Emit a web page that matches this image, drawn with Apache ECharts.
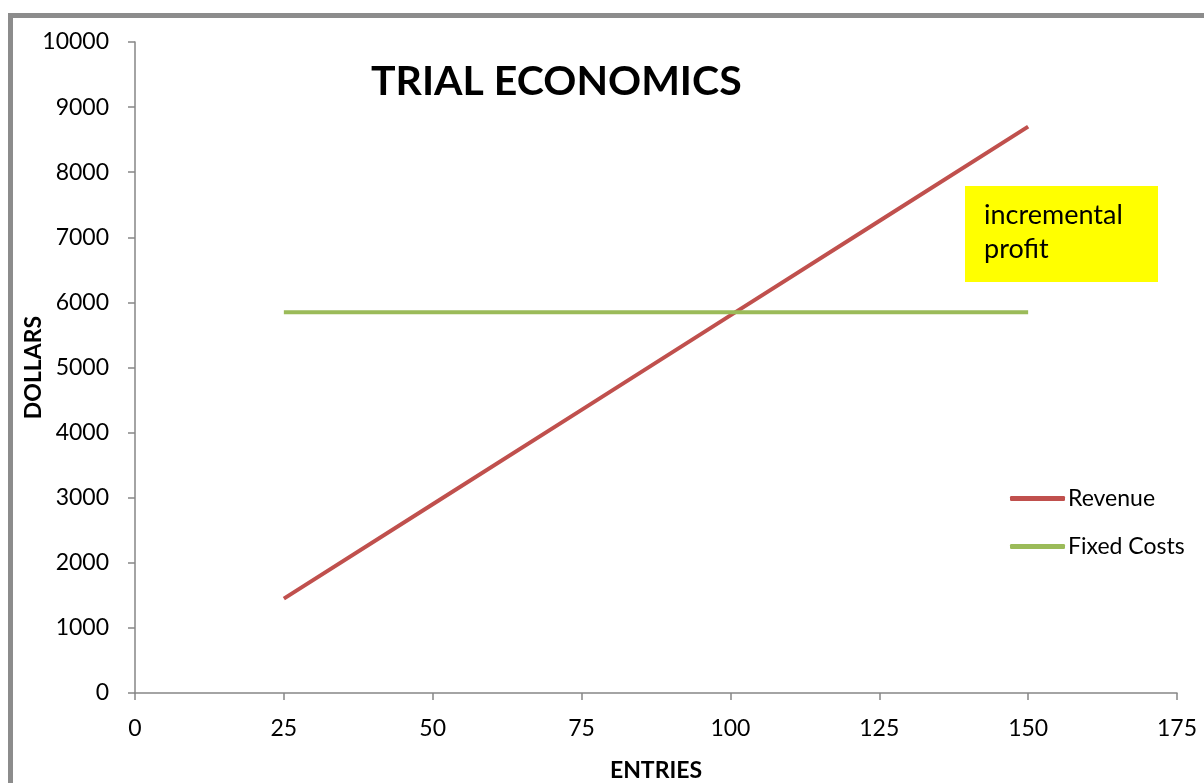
<!DOCTYPE html>
<html>
<head>
<meta charset="utf-8">
<title>Trial Economics</title>
<script src="https://cdn.jsdelivr.net/npm/echarts@6/dist/echarts.min.js"></script>
<style>
  html, body { margin: 0; padding: 0; background: #fff; }
  #frame { position: absolute; left: 8px; top: 13px; width: 1200px; height: 780px;
           border-left: 5px solid #8c8c8c; border-top: 5px solid #8c8c8c; box-sizing: border-box; }
  #chart { position: absolute; left: 0; top: 0; width: 1204px; height: 783px; }
</style>
</head>
<body>
<div id="frame"></div>
<div id="chart"></div>
<script>
// Entries vs dollars
const entries = [25, 50, 75, 100, 125, 150];
const revenue = [1450, 2900, 4350, 5800, 7250, 8700];
const fixedCosts = [5850, 5850, 5850, 5850, 5850, 5850];

const font = 'Lato, "Open Sans", sans-serif';
const chart = echarts.init(document.getElementById('chart'));

const pairs = (xs, ys) => xs.map((x, i) => [x, ys[i]]);

chart.setOption({
  animation: false,
  textStyle: { fontFamily: font },
  title: {
    text: 'TRIAL ECONOMICS',
    left: 366, top: 56,
    textStyle: { fontSize: 41, fontWeight: 'bold', color: '#000', fontFamily: font }
  },
  grid: { left: 135, right: 27, top: 42, bottom: 90, outerBoundsMode: 'none', containLabel: false },
  legend: {
    orient: 'vertical',
    left: 1005, top: 482,
    itemWidth: 55, itemHeight: 5, itemGap: 25,
    icon: 'roundRect',
    textStyle: { fontSize: 23, color: '#000', fontFamily: font, padding: [0, 0, 0, -2] },
    data: ['Revenue', 'Fixed Costs']
  },
  xAxis: {
    type: 'value', min: 0, max: 175, interval: 25,
    name: 'ENTRIES', nameLocation: 'middle', nameGap: 66, nameMoveOverlap: false,
    nameTextStyle: { fontSize: 23, fontWeight: 'bold', color: '#000', fontFamily: font },
    axisLine: { show: true, lineStyle: { color: '#868686', width: 1.5 } },
    axisTick: { show: true, length: 7, lineStyle: { color: '#868686', width: 1.5 } },
    axisLabel: { fontSize: 23, color: '#000', margin: 24, fontFamily: font },
    splitLine: { show: false }
  },
  yAxis: {
    type: 'value', min: 0, max: 10000, interval: 1000,
    name: 'DOLLARS', nameLocation: 'middle', nameGap: 90, nameRotate: 90, nameMoveOverlap: false,
    nameTextStyle: { fontSize: 23, fontWeight: 'bold', color: '#000', fontFamily: font },
    axisLine: { show: true, lineStyle: { color: '#868686', width: 1.5 } },
    axisTick: { show: true, length: 7, lineStyle: { color: '#868686', width: 1.5 } },
    axisLabel: { fontSize: 23, color: '#000', margin: 26, fontFamily: font,
                 formatter: v => String(v) },
    splitLine: { show: false }
  },
  series: [
    {
      name: 'Revenue', type: 'line', data: pairs(entries, revenue),
      showSymbol: false, symbol: 'none',
      lineStyle: { color: '#c0504d', width: 4 }, itemStyle: { color: '#c0504d' }
    },
    {
      name: 'Fixed Costs', type: 'line', data: pairs(entries, fixedCosts),
      showSymbol: false, symbol: 'none',
      lineStyle: { color: '#9bbb59', width: 4 }, itemStyle: { color: '#9bbb59' }
    }
  ],
  graphic: [
    {
      type: 'rect', left: 965, top: 186, z: 10,
      shape: { width: 193, height: 96 },
      style: { fill: '#ffff00' }
    },
    {
      type: 'text', left: 984, top: 198, z: 11,
      style: { text: 'incremental\nprofit', fill: '#000', font: '27px ' + font, lineHeight: 34 }
    }
  ]
});
</script>
</body>
</html>
